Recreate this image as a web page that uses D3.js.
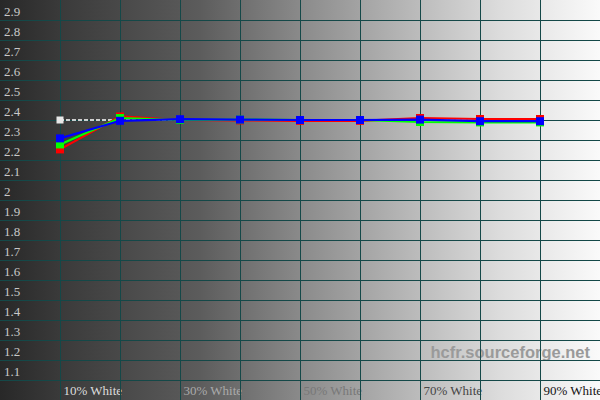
<!DOCTYPE html>
<html>
<head>
<meta charset="utf-8">
<script src="https://cdn.jsdelivr.net/npm/d3@7"></script>
<style>
  html, body { margin: 0; padding: 0; background: #000; }
  svg { display: block; }
</style>
</head>
<body>
<svg id="chart" width="600" height="400"></svg>
<script>
// ---- data ----
const levels = [10, 20, 30, 40, 50, 60, 70, 80, 90];
const redGamma   = [2.253, 2.418, 2.400, 2.398, 2.396, 2.396, 2.410, 2.405, 2.405];
const greenGamma = [2.278, 2.410, 2.400, 2.402, 2.400, 2.400, 2.390, 2.388, 2.388];
const blueGamma  = [2.308, 2.396, 2.404, 2.402, 2.400, 2.400, 2.402, 2.394, 2.394];
const refGamma   = [2.40, 2.40, 2.40, 2.40, 2.40, 2.40, 2.40, 2.40, 2.40];
const yTicks = [1.1, 1.2, 1.3, 1.4, 1.5, 1.6, 1.7, 1.8, 1.9, 2.0, 2.1, 2.2, 2.3, 2.4, 2.5, 2.6, 2.7, 2.8, 2.9];
const xTicks = [10, 20, 30, 40, 50, 60, 70, 80, 90];
const xLabelTicks = [10, 30, 50, 70, 90];
const watermark = "hcfr.sourceforge.net";

// ---- drawing ----
const W = 600, H = 400;
const svg = d3.select("#chart");
const x = d3.scaleLinear().domain([0, 100]).range([0, W]);
const y = d3.scaleLinear().domain([1, 3]).range([H, 0]);

// background gradient
const defs = svg.append("defs");
const grad = defs.append("linearGradient").attr("id", "bg")
  .attr("x1", "0%").attr("x2", "100%").attr("y1", "0%").attr("y2", "0%");
[[0, "#282828"], [0.1, "#3a3a3a"], [0.333, "#5c5c5c"], [0.5, "#8a8a8a"],
 [0.667, "#b4b4b4"], [0.833, "#dcdcdc"], [1, "#fafafa"]]
  .forEach(([o, c]) => grad.append("stop").attr("offset", o).attr("stop-color", c));
svg.append("rect").attr("width", W).attr("height", H).attr("fill", "url(#bg)");

// watermark
svg.append("text")
  .attr("x", 590).attr("y", 358)
  .attr("text-anchor", "end")
  .attr("font-family", "Liberation Sans, Arial, sans-serif")
  .attr("font-weight", "bold")
  .attr("font-size", 16.5)
  .attr("fill", "#9a9a9a")
  .text(watermark);

const gridColor = "#144848";
const serif = "Liberation Serif, Times New Roman, serif";

// Y axis (grid + labels)
const gy = svg.append("g").attr("class", "y-axis")
  .call(d3.axisRight(y).tickValues(yTicks).tickSize(W).tickFormat(d => String(+d.toFixed(1))));
gy.select(".domain").remove();
gy.selectAll(".tick line").attr("stroke", gridColor).attr("stroke-width", 1)
  .attr("shape-rendering", "crispEdges");
gy.selectAll(".tick text")
  .attr("x", 4).attr("y", -5).attr("dy", 0)
  .attr("text-anchor", "start")
  .attr("font-family", serif).attr("font-size", 13)
  .attr("fill", "#c8c8c8");

// X axis (grid + labels)
const gx = svg.append("g").attr("class", "x-axis")
  .attr("transform", `translate(0,${H})`)
  .call(d3.axisBottom(x).tickValues(xTicks).tickSize(-H)
    .tickFormat(d => xLabelTicks.includes(d) ? d + "% White" : ""));
gx.select(".domain").remove();
gx.selectAll(".tick line").attr("stroke", gridColor).attr("stroke-width", 1)
  .attr("shape-rendering", "crispEdges");
gx.selectAll(".tick text")
  .attr("x", 3).attr("y", -5).attr("dy", 0)
  .attr("text-anchor", "start")
  .attr("font-family", serif).attr("font-size", 13)
  .attr("fill", d => { const g = Math.round(250 * (1 - d / 100) - 5); return d3.rgb(g, g, g); });

// series
const line = d3.line().x(d => x(d[0])).y(d => y(d[1]));
function drawSeries(vals, color, opts) {
  const pts = levels.map((l, i) => [l, vals[i]]);
  const g = svg.append("g");
  g.append("path").datum(pts)
    .attr("d", line).attr("fill", "none")
    .attr("stroke", color).attr("stroke-width", opts.width)
    .attr("stroke-dasharray", opts.dash || null);
  const s = opts.marker;
  g.selectAll("rect").data(pts).enter().append("rect")
    .attr("x", d => x(d[0]) - s / 2).attr("y", d => y(d[1]) - s / 2)
    .attr("width", s).attr("height", s).attr("fill", opts.markerColor || color);
}
drawSeries(refGamma, "#ffffff", { width: 1.3, dash: "4,2", marker: 7, markerColor: "#e8e8e8" });
drawSeries(redGamma, "#ff0000", { width: 2.2, marker: 8 });
drawSeries(greenGamma, "#00ff00", { width: 2.2, marker: 8 });
drawSeries(blueGamma, "#0000ff", { width: 2.2, marker: 8 });
</script>
</body>
</html>
